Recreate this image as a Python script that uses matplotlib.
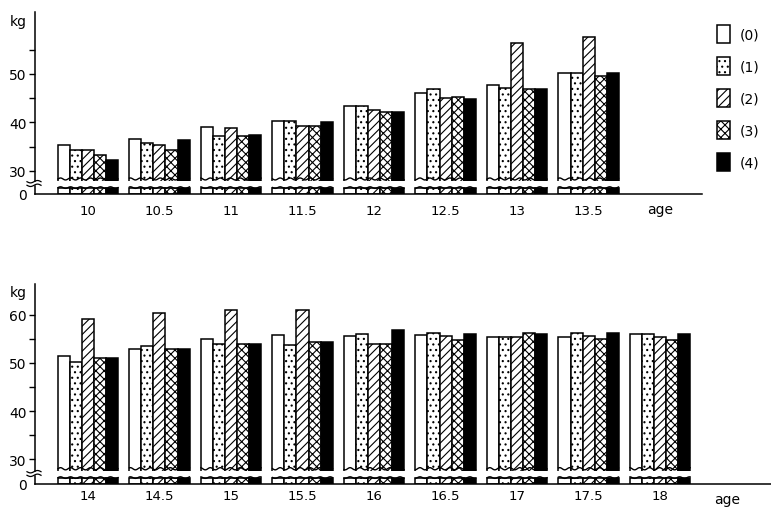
import matplotlib.pyplot as plt
import matplotlib.transforms as mtransforms
import numpy as np

plt.rcParams['font.family'] = ['DejaVu Sans']
plt.rcParams['hatch.linewidth'] = 0.8

W, H = 771, 510

groups = ['(0)', '(1)', '(2)', '(3)', '(4)']
ages_top = ['10', '10.5', '11', '11.5', '12', '12.5', '13', '13.5']
ages_bot = ['14', '14.5', '15', '15.5', '16', '16.5', '17', '17.5', '18']

# body weight (kg) per group, ages 10 - 13.5
top_g0 = [35.4, 36.6, 39.0, 40.3, 43.3, 46.1, 47.7, 50.2]
top_g1 = [34.3, 35.7, 37.1, 40.3, 43.3, 46.8, 47.2, 50.2]
top_g2 = [34.3, 35.3, 38.8, 39.3, 42.5, 45.1, 56.3, 57.7]
top_g3 = [33.3, 34.3, 37.2, 39.3, 42.1, 45.2, 47.0, 49.5]
top_g4 = [32.3, 36.4, 37.4, 40.1, 42.2, 44.8, 47.0, 50.2]

# ages 14 - 18
bot_g0 = [51.4, 53.0, 54.9, 55.9, 55.6, 55.8, 55.3, 55.4, 56.1]
bot_g1 = [50.1, 53.5, 54.0, 53.8, 56.1, 56.3, 55.3, 56.3, 56.1]
bot_g2 = [59.1, 60.3, 61.0, 61.0, 53.9, 55.6, 55.3, 55.5, 55.3]
bot_g3 = [51.0, 52.8, 54.0, 54.4, 53.9, 54.8, 56.3, 54.9, 54.7]
bot_g4 = [51.0, 52.8, 54.0, 54.4, 56.8, 56.0, 56.0, 56.3, 56.1]

fills = ['white', 'white', 'white', 'white', 'black']
hatches = [None, '...', '////', 'xxxx', None]
bw = 0.168


def px_rect(x0, y0, x1, y1):
    # pixel box (top-left origin) -> figure fraction
    return [x0 / W, 1 - y1 / H, (x1 - x0) / W, (y1 - y0) / H]


def wave(ax, xc, y, amp):
    tr = mtransforms.blended_transform_factory(ax.transData, ax.transAxes)
    xs = np.linspace(xc - 2.5 * bw, xc + 2.5 * bw, 60)
    ax.plot(xs, y + amp * np.sin(xs * 45), color='black', lw=1.0,
            transform=tr, clip_on=False, zorder=5)


def draw_panel(fig, hi_box, lo_box, ages, series, ylim, xlim, yticks, ylabels, xpad):
    ax = fig.add_axes(px_rect(*hi_box))
    axl = fig.add_axes(px_rect(*lo_box))
    x = np.arange(len(ages))
    base = ylim[0] - 1.0  # straight bottom edge falls outside the axes
    for k, vals in enumerate(series):
        pos = x + (k - 2) * bw
        ax.bar(pos, np.array(vals) - base, bottom=base, width=bw,
               color=fills[k], hatch=hatches[k], edgecolor='black', lw=1.1,
               label=groups[k])
        axl.bar(pos, 0.8, width=bw, color=fills[k], hatch=hatches[k],
                edgecolor='black', lw=1.1)
    for xc in x:
        wave(ax, xc, 0.012, 0.006)
        wave(axl, xc, 0.8, 0.1)

    ax.set_xlim(*xlim)
    axl.set_xlim(*xlim)
    ax.set_ylim(*ylim)
    axl.set_ylim(0, 1)
    for s in ['top', 'right', 'bottom']:
        ax.spines[s].set_visible(False)
    for s in ['top', 'right']:
        axl.spines[s].set_visible(False)
    ax.set_xticks([])
    ax.set_yticks(yticks)
    ax.set_yticklabels(ylabels)
    ax.tick_params(axis='y', direction='out', length=4, width=1, labelsize=10, pad=2)
    axl.set_yticks([0])
    axl.set_yticklabels(['0'])
    axl.tick_params(axis='y', length=0, labelsize=10, pad=6)
    axl.set_xticks(x)
    axl.set_xticklabels(ages)
    axl.tick_params(axis='x', length=0, labelsize=9.5, pad=xpad)
    for a in (ax, axl):
        a.spines['left'].set_linewidth(1.1)
    axl.spines['bottom'].set_linewidth(1.1)
    return ax, axl


fig = plt.figure(figsize=(W / 100, H / 100), dpi=100)

# top panel
ax_t, axl_t = draw_panel(fig, (35, 13, 702, 182), (35, 187, 702, 195), ages_top,
                         [top_g0, top_g1, top_g2, top_g3, top_g4],
                         (27.9, 62.8), (-0.741, 8.587),
                         [30, 35, 40, 45, 50, 55], ['30', '', '40', '', '50', ''], 7)
# bottom panel
ax_b, axl_b = draw_panel(fig, (35, 285, 771, 472), (35, 477, 771, 485), ages_bot,
                         [bot_g0, bot_g1, bot_g2, bot_g3, bot_g4],
                         (27.56, 66.4), (-0.741, 9.552),
                         [30, 35, 40, 45, 50, 55, 60], ['30', '', '40', '', '50', '', '60'], 3.5)

# axis break marks on the y axes
for yb in (184.5, 474.5):
    for dy in (-1.8, 1.8):
        xs = np.linspace(27, 41, 20)
        ys = yb + dy + 1.2 * np.sin((xs - 27) / 14 * 2 * np.pi)
        fig.add_artist(plt.Line2D(xs / W, 1 - ys / H, color='black', lw=0.9))

fig.text(18 / W, 1 - 22 / H, 'kg', ha='center', va='center', fontsize=10)
fig.text(18 / W, 1 - 293 / H, 'kg', ha='center', va='center', fontsize=10)
fig.text(660 / W, 1 - 210 / H, 'age', ha='center', va='center', fontsize=10)
fig.text(727 / W, 1 - 500 / H, 'age', ha='center', va='center', fontsize=10)

fig.legend(*ax_t.get_legend_handles_labels(), loc='upper left',
           bbox_to_anchor=(717 / W, 1 - 26 / H), frameon=False, fontsize=10,
           handlelength=0.95, handleheight=1.65, labelspacing=0.98,
           handletextpad=0.7, borderpad=0, borderaxespad=0)

fig.savefig('out.png', dpi=100)
